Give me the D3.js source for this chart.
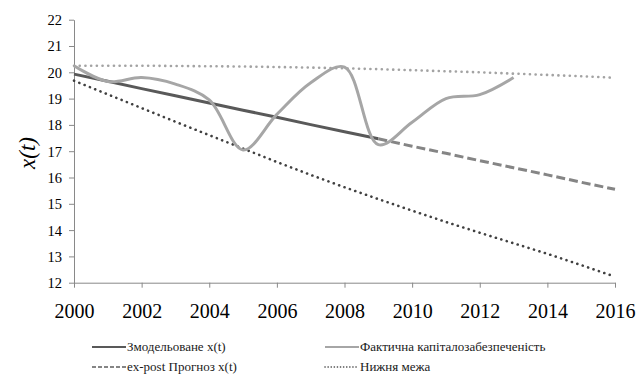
<!DOCTYPE html>
<html><head><meta charset="utf-8">
<script src="https://cdn.jsdelivr.net/npm/d3@7"></script>
</head>
<body style="margin:0;background:#fff">
<svg id="c" width="637" height="376" style="display:block"></svg>
<script>
const years = d3.range(2000, 2017);
const modelYears = [2000,2001,2002,2003,2004,2005,2006,2007,2008,2009];
const modelValues = [19.93,19.66,19.38,19.11,18.83,18.56,18.29,18.01,17.74,17.47];
const forecastYears = [2009,2010,2011,2012,2013,2014,2015,2016];
const forecastValues = [17.47,17.19,16.92,16.64,16.37,16.10,15.82,15.55];
const actualYears = [2000,2001,2002,2003,2004,2005,2006,2007,2008,2009,2010,2011,2012,2013];
const actualValues = [20.25,19.65,19.8,19.55,18.95,17.05,18.4,19.6,20.2,17.25,18.1,19.0,19.15,19.8];
const upperValues = [20.25,20.25,20.25,20.24,20.23,20.22,20.20,20.18,20.15,20.12,20.08,20.04,20.00,19.95,19.90,19.85,19.79];
const lowerValues = [19.68,19.16,18.64,18.12,17.61,17.10,16.59,16.10,15.63,15.18,14.74,14.31,13.90,13.50,13.10,12.67,12.23];
const xTicks = [2000,2002,2004,2006,2008,2010,2012,2014,2016];
const yTicks = [12,13,14,15,16,17,18,19,20,21,22];
const legendLabels = ["Змодельоване x(t)","Фактична капіталозабезпеченість","ex-post Прогноз x(t)","Нижня межа"];

const FONT = '"Liberation Serif"';
const svg = d3.select("#c");
const x = d3.scaleLinear().domain([2000,2016]).range([74,615]);
const y = d3.scaleLinear().domain([12,22]).range([282.7,19.7]);
const axisColor = "#898989";

const gx = svg.append("g").attr("transform",`translate(0,${y(12)})`)
  .call(d3.axisBottom(x).tickValues(xTicks).tickFormat(d3.format("d")).tickSizeInner(5).tickSizeOuter(0).tickPadding(16));
const gy = svg.append("g").attr("transform",`translate(${x(2000)},0)`)
  .call(d3.axisLeft(y).tickValues(yTicks).tickSizeInner(5).tickSizeOuter(0).tickPadding(7));
[gx,gy].forEach(g=>{
  g.attr("font-family",FONT);
  g.select(".domain").attr("stroke",axisColor).attr("stroke-width",1);
  g.selectAll(".tick line").attr("stroke",axisColor);
  g.selectAll("text").attr("fill","#000").style("font-family",FONT);
});
gx.selectAll("text").attr("font-size",20);
gy.selectAll("text").attr("font-size",14.5).attr("dy","0.34em");

svg.append("text").attr("transform",`translate(35,153) rotate(-90)`)
  .attr("text-anchor","middle").attr("font-size",23).attr("font-style","italic")
  .style("font-family",FONT).text("x(t)");

const line = d3.line().x(d=>x(d[0])).y(d=>y(d[1]));
const smooth = d3.line().x(d=>x(d[0])).y(d=>y(d[1])).curve(d3.curveCatmullRom.alpha(0.5));

svg.append("path").datum(d3.zip(years,upperValues)).attr("d",line)
  .attr("fill","none").attr("stroke","#a3a3a3").attr("stroke-width",2.6)
  .attr("stroke-dasharray","0.1,5.6").attr("stroke-linecap","round");
svg.append("path").datum(d3.zip(years,lowerValues)).attr("d",line)
  .attr("fill","none").attr("stroke","#404040").attr("stroke-width",2.6)
  .attr("stroke-dasharray","0.1,5.6").attr("stroke-linecap","round");
svg.append("path").datum(d3.zip(modelYears,modelValues)).attr("d",line)
  .attr("fill","none").attr("stroke","#595959").attr("stroke-width",3);
svg.append("path").datum(d3.zip(forecastYears,forecastValues)).attr("d",line)
  .attr("fill","none").attr("stroke","#858585").attr("stroke-width",3)
  .attr("stroke-dasharray","9,4");
svg.append("path").datum(d3.zip(actualYears,actualValues)).attr("d",smooth)
  .attr("fill","none").attr("stroke","#a6a6a6").attr("stroke-width",3)
  .attr("stroke-linejoin","round");

const legendStyles = [
  {stroke:"#595959",dash:null,cap:"butt",w:2},
  {stroke:"#a6a6a6",dash:null,cap:"butt",w:2},
  {stroke:"#858585",dash:"4,2",cap:"butt",w:2},
  {stroke:"#404040",dash:"0.1,3",cap:"round",w:1.6}
];
const legendX = [92,325], legendY = [347,367];
legendLabels.forEach((lab,i)=>{
  const lx = legendX[i%2], ly = legendY[Math.floor(i/2)];
  const s = legendStyles[i];
  svg.append("line").attr("x1",lx).attr("x2",lx+34).attr("y1",ly).attr("y2",ly)
    .attr("stroke",s.stroke).attr("stroke-width",s.w)
    .attr("stroke-dasharray",s.dash).attr("stroke-linecap",s.cap);
  svg.append("text").attr("x",lx+35).attr("y",ly).attr("dy","0.33em")
    .attr("font-size",13).attr("fill","#1a1a1a").style("font-family",FONT).text(lab);
});
</script></body></html>
